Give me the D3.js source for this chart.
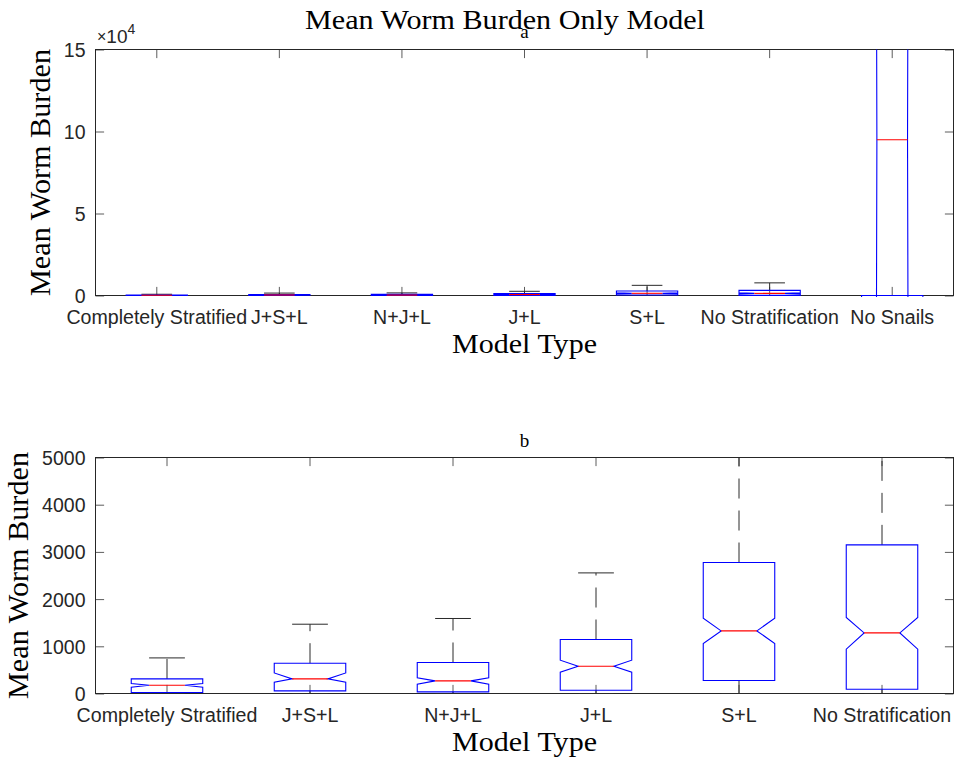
<!DOCTYPE html>
<html>
<head>
<meta charset="utf-8">
<script src="https://cdn.jsdelivr.net/npm/d3@7"></script>
<style>
  html, body { margin: 0; padding: 0; background: #fff; }
  svg { display: block; }
</style>
</head>
<body>
<svg id="fig" width="954" height="761"></svg>
<script>
// Model categories (panel a shows all seven, panel b omits "No Snails")
const categoriesA = ["Completely Stratified", "J+S+L", "N+J+L", "J+L", "S+L", "No Stratification", "No Snails"];
const categoriesB = ["Completely Stratified", "J+S+L", "N+J+L", "J+L", "S+L", "No Stratification"];

// Box-plot summary statistics per model (mean worm burden)
const whiskerLow  = [0,    0,    0,    0,    0,    0,    0];
const quartile1   = [20,   55,   35,   70,   275,  91,   0];
const notchLow    = [133,  239,  197,  451,  1059, 939,  -3600000];
const medians     = [176,  309,  267,  578,  1326, 1284, 95000];
const notchHigh   = [212,  436,  331,  705,  1595, 1610, 3800000];
const quartile3   = [309,  642,  657,  1144, 2775, 3149, 2400000];
const whiskerHigh = [754,  1468, 1589, 2555, 6200, 7700, 2400000];

// Axis ticks
const yTicksA = [0, 50000, 100000, 150000];
const yTicksB = [0, 1000, 2000, 3000, 4000, 5000];

const stats = categoriesA.map((c, i) => ({
  cat: c, wlo: whiskerLow[i], q1: quartile1[i], nlo: notchLow[i], med: medians[i],
  nhi: notchHigh[i], q3: quartile3[i], whi: whiskerHigh[i]
}));

const svg = d3.select("#fig");
const AX = "#262626";
const TICK_LEN = 8.6;
const serif = "'Liberation Serif', 'Times New Roman', serif";
const sans = "'Liberation Sans', Arial, Helvetica, sans-serif";

// Figure title
svg.append("text")
  .attr("x", 505).attr("y", 28.5)
  .attr("text-anchor", "middle")
  .attr("font-family", serif).attr("font-size", 28)
  .attr("textLength", 400).attr("lengthAdjust", "spacingAndGlyphs")
  .attr("fill", "#000")
  .text("Mean Worm Burden Only Model");

function drawPanel(opts) {
  const { left, right, top, bottom, cats, yDomain, yTicks, tickFmt, letter, letterY, id } = opts;
  const data = stats.filter(d => cats.includes(d.cat));
  const g = svg.append("g");

  const x = d3.scaleBand().domain(cats).range([left, right]).paddingInner(0).paddingOuter(0);
  const y = d3.scaleLinear().domain(yDomain).range([bottom, top]);
  const bw = x.bandwidth();
  const boxW = bw * 0.5;
  const cx = d => x(d.cat) + bw / 2;

  g.append("clipPath").attr("id", id)
    .append("rect").attr("x", left).attr("y", top).attr("width", right - left).attr("height", bottom - top + 1.5);

  // Axes: ticks point inward on all four sides
  const xAxis = g.append("g").attr("transform", `translate(0,${bottom})`)
    .call(d3.axisBottom(x).tickSize(-TICK_LEN).tickPadding(0));
  xAxis.select(".domain").remove();
  xAxis.selectAll("line").attr("stroke", AX).attr("stroke-opacity", 0.75);
  xAxis.selectAll("text")
    .attr("y", 28).attr("dy", 0)
    .attr("font-family", sans).attr("font-size", 19.6).attr("fill", AX);

  const xTop = g.append("g").attr("transform", `translate(0,${top})`)
    .call(d3.axisTop(x).tickSize(-TICK_LEN).tickFormat(""));
  xTop.select(".domain").remove();
  xTop.selectAll("line").attr("stroke", AX).attr("stroke-opacity", 0.75);

  const yAxis = g.append("g").attr("transform", `translate(${left},0)`)
    .call(d3.axisLeft(y).tickValues(yTicks).tickSize(-TICK_LEN).tickPadding(10).tickFormat(tickFmt));
  yAxis.select(".domain").remove();
  yAxis.selectAll("line").attr("stroke", AX).attr("stroke-opacity", 0.75);
  yAxis.selectAll("text")
    .attr("font-family", sans).attr("font-size", 19.5).attr("fill", AX).attr("dy", "0.36em");

  const yRight = g.append("g").attr("transform", `translate(${right},0)`)
    .call(d3.axisRight(y).tickValues(yTicks).tickSize(-TICK_LEN).tickFormat(""));
  yRight.select(".domain").remove();
  yRight.selectAll("line").attr("stroke", AX).attr("stroke-opacity", 0.75);

  // Axes frame
  g.append("rect")
    .attr("x", left).attr("y", top).attr("width", right - left).attr("height", bottom - top)
    .attr("fill", "none").attr("stroke", AX).attr("stroke-width", 1);

  // Box plots
  const plot = g.append("g").attr("clip-path", `url(#${id})`);
  const boxes = plot.selectAll("g.box").data(data).join("g").attr("class", "box");

  // Whiskers (dashed, starting from the box edges)
  boxes.append("line")
    .attr("x1", cx).attr("x2", cx)
    .attr("y1", d => y(d.q3)).attr("y2", d => y(d.whi))
    .attr("stroke", "#2a2a2a").attr("stroke-width", 1).attr("stroke-dasharray", "20,12");
  boxes.append("line")
    .attr("x1", cx).attr("x2", cx)
    .attr("y1", d => y(d.q1)).attr("y2", d => y(d.wlo))
    .attr("stroke", "#2a2a2a").attr("stroke-width", 1).attr("stroke-dasharray", "20,12");
  // Whisker caps
  boxes.append("line")
    .attr("x1", d => cx(d) - boxW / 4).attr("x2", d => cx(d) + boxW / 4)
    .attr("y1", d => y(d.whi)).attr("y2", d => y(d.whi))
    .attr("stroke", "#2a2a2a").attr("stroke-width", 1);
  boxes.append("line")
    .attr("x1", d => cx(d) - boxW / 4).attr("x2", d => cx(d) + boxW / 4)
    .attr("y1", d => y(d.wlo)).attr("y2", d => y(d.wlo))
    .attr("stroke", "#2a2a2a").attr("stroke-width", 1);

  // Notched box outline
  boxes.append("path")
    .attr("d", d => {
      const l = cx(d) - boxW / 2, r = cx(d) + boxW / 2;
      const il = cx(d) - boxW / 4, ir = cx(d) + boxW / 4;
      const p = d3.path();
      p.moveTo(l, y(d.q1));
      p.lineTo(l, y(d.nlo));
      p.lineTo(il, y(d.med));
      p.lineTo(l, y(d.nhi));
      p.lineTo(l, y(d.q3));
      p.lineTo(r, y(d.q3));
      p.lineTo(r, y(d.nhi));
      p.lineTo(ir, y(d.med));
      p.lineTo(r, y(d.nlo));
      p.lineTo(r, y(d.q1));
      p.closePath();
      return p.toString();
    })
    .attr("fill", "none").attr("stroke", "#0000ff").attr("stroke-width", 1.1);

  // Median
  boxes.append("line")
    .attr("x1", d => cx(d) - boxW / 4).attr("x2", d => cx(d) + boxW / 4)
    .attr("y1", d => y(d.med)).attr("y2", d => y(d.med))
    .attr("stroke", "#ff0000").attr("stroke-width", 1.1);

  // Axis titles
  g.append("text")
    .attr("x", (left + right) / 2).attr("y", bottom + 57)
    .attr("text-anchor", "middle")
    .attr("font-family", serif).attr("font-size", 28)
    .attr("textLength", 145).attr("lengthAdjust", "spacingAndGlyphs")
    .attr("fill", "#000")
    .text("Model Type");

  g.append("text")
    .attr("transform", `translate(${opts.yLabelX},${(top + bottom) / 2}) rotate(-90)`)
    .attr("text-anchor", "middle")
    .attr("font-family", serif).attr("font-size", 29)
    .attr("textLength", 247).attr("lengthAdjust", "spacingAndGlyphs")
    .attr("fill", "#000")
    .text("Mean Worm Burden");

  // Panel letter
  g.append("text")
    .attr("x", (left + right) / 2).attr("y", letterY)
    .attr("text-anchor", "middle")
    .attr("font-family", serif).attr("font-size", 19)
    .attr("fill", "#000")
    .text(letter);
}

drawPanel({
  id: "clipA", left: 95.5, right: 953.5, top: 49.5, bottom: 295.5,
  cats: categoriesA, yDomain: [0, 150000], yTicks: yTicksA,
  tickFmt: d => d / 10000, letter: "a", letterY: 38, yLabelX: 50
});

drawPanel({
  id: "clipB", left: 95.5, right: 953.5, top: 457.5, bottom: 693.5,
  cats: categoriesB, yDomain: [0, 5000], yTicks: yTicksB,
  tickFmt: d3.format("d"), letter: "b", letterY: 446.5, yLabelX: 27.5
});

// Exponent label for panel a
const ex = svg.append("text")
  .attr("x", 97).attr("y", 43)
  .attr("font-family", sans).attr("font-size", 19).attr("fill", AX);
ex.append("tspan").attr("font-size", 16).attr("dy", -1).text("×");
ex.append("tspan").attr("dy", 1).text("10");
ex.append("tspan").attr("dy", -9).attr("font-size", 14).text("4");
</script>
</body>
</html>
